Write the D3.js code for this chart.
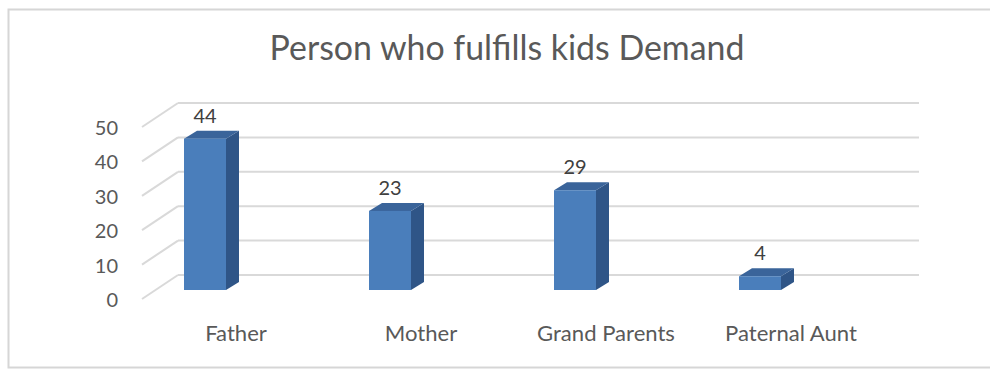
<!DOCTYPE html>
<html>
<head>
<meta charset="utf-8">
<script src="https://cdn.jsdelivr.net/npm/d3@7"></script>
<style>
html,body{margin:0;padding:0;background:#fff;}
svg{display:block;}
text{font-family:Lato,"Open Sans",sans-serif;fill:#595959;}
</style>
</head>
<body>
<svg id="chart" width="990" height="372"></svg>
<script>
const title = "Person who fulfills kids Demand";
const categories = ["Father", "Mother", "Grand Parents", "Paternal Aunt"];
const values = [44, 23, 29, 4];
const tickValues = [0, 10, 20, 30, 40, 50];

const svg = d3.select("#chart");

// frame
svg.append("rect").attr("x", 8.5).attr("y", 9.5).attr("width", 990).attr("height", 358)
  .attr("fill", "#fff").attr("stroke", "#d6d6d6").attr("stroke-width", 2);

// back-wall value scale
const y = d3.scaleLinear().domain([0, 50]).range([275, 103]);
const x = d3.scaleBand().domain(categories).range([41, 924]).paddingInner(0.773).paddingOuter(0.773);

const wallX0 = 178, wallX1 = 919;
const sideDX = 36, sideDY = 24;   // side wall depth
const barDX = 13, barDY = 8;      // bar depth
const barOff = 15;                // bar front plane offset below back wall

// gridlines (back wall + side wall)
const grid = svg.append("g");
tickValues.forEach(v => {
  grid.append("line").attr("x1", wallX0).attr("x2", wallX1)
    .attr("y1", y(v)).attr("y2", y(v))
    .attr("stroke", "#d9d9d9").attr("stroke-width", 2);
  grid.append("line").attr("x1", wallX0 - sideDX).attr("y1", y(v) + sideDY)
    .attr("x2", wallX0).attr("y2", y(v))
    .attr("stroke", "#d9d9d9").attr("stroke-width", 2);
});

// tick labels
svg.append("g").selectAll("text").data(tickValues).join("text")
  .attr("x", 118).attr("y", d => y(d) + sideDY)
  .attr("text-anchor", "end").attr("dominant-baseline", "central")
  .style("font-size", "20px").text(d => d);

// bars
const bw = x.bandwidth();
const bars = svg.append("g").selectAll("g").data(categories).join("g");
bars.each(function(c, i) {
  const g = d3.select(this);
  const x0 = x(c), x1 = x0 + bw;
  const yb = y(0) + barOff, yt = y(values[i]) + barOff;
  g.append("path").attr("d", `M${x1},${yb}L${x1 + barDX},${yb - barDY}L${x1 + barDX},${yt - barDY}L${x1},${yt}Z`)
    .attr("fill", "#2f5587");
  g.append("path").attr("d", `M${x0},${yt}L${x0 + barDX},${yt - barDY}L${x1 + barDX},${yt - barDY}L${x1},${yt}Z`)
    .attr("fill", "#3a649a");
  g.append("rect").attr("x", x0).attr("y", yt).attr("width", bw).attr("height", yb - yt)
    .attr("fill", "#4a7ebb");
  g.append("text").attr("x", x0 + bw / 2).attr("y", yt - 16)
    .attr("text-anchor", "middle").style("font-size", "20px").style("fill", "#404040").text(values[i]);
});

// category labels
const catTexts = svg.append("g").selectAll("text").data(categories).join("text")
  .attr("x", d => x(d) + bw / 2 + 31).attr("y", 341)
  .attr("text-anchor", "middle").style("font-size", "18px").text(d => d);
const gp = catTexts.filter(d => d === "Grand Parents").node();
const gw = gp.getComputedTextLength();
catTexts.style("font-size", (18 * 138 / gw) + "px");

// title
const t = svg.append("text").attr("x", 507).attr("y", 60).attr("text-anchor", "middle")
  .style("font-size", "28px").text(title);
const tw = t.node().getComputedTextLength();
t.style("font-size", (28 * 475 / tw) + "px");
</script>
</body>
</html>
